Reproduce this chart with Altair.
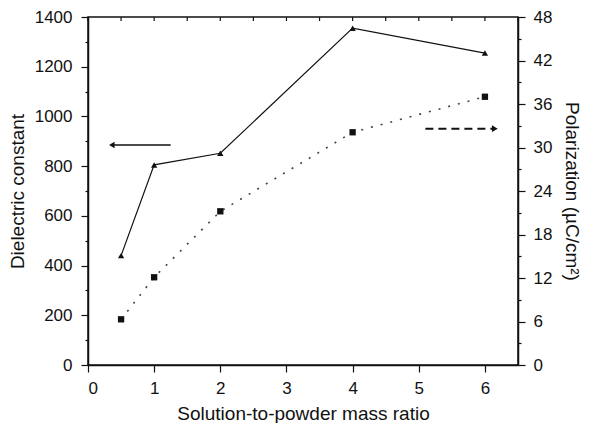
import altair as alt
import pandas as pd

# ---- data ----
ratio = [0.5, 1, 2, 4, 6]
dielectric = [440, 805, 852, 1355, 1255]
polarization = [6.3, 12.1, 21.2, 32.1, 37.0]

left_arrow_tail = 1.25
left_arrow_head = 0.36
left_arrow_level = 885
right_arrow_tail = 5.1
right_arrow_head = 6.15
right_arrow_level = 32.6

x_ticks = [i * 0.5 for i in range(14)]
left_ticks = list(range(0, 1401, 100))
right_ticks = list(range(0, 49, 3))

FONT = "Liberation Sans"
INK = "#111111"

df = pd.DataFrame({"ratio": ratio, "dielectric": dielectric, "polarization": polarization})
left_arrow = pd.DataFrame({"ratio": [left_arrow_tail], "ratio2": [left_arrow_head], "dielectric": [left_arrow_level]})
right_arrow = pd.DataFrame({"ratio": [right_arrow_tail], "ratio2": [right_arrow_head], "polarization": [right_arrow_level]})
top_ticks = pd.DataFrame({"ratio": x_ticks})

xscale = alt.Scale(domain=[0, 6.5], nice=False)

def x_enc(field="ratio"):
    return alt.X(f"{field}:Q", scale=xscale, axis=alt.Axis(
        values=x_ticks, orient="bottom", format="d", labelOverlap=False,
        labelExpr="datum.value % 1 === 0 ? datum.label : ''",
        tickSize={"condition": {"test": "datum.value % 1 !== 0", "value": 3}, "value": 7},
        labelPadding=8, titlePadding=8,
        title="Solution-to-powder mass ratio", grid=False))

def y_left():
    return alt.Y("dielectric:Q", scale=alt.Scale(domain=[0, 1400], nice=False), axis=alt.Axis(
        values=left_ticks, orient="left", format="d", labelOverlap=False,
        labelExpr="datum.value % 200 === 0 ? datum.label : ''",
        tickSize={"condition": {"test": "datum.value % 200 !== 0", "value": 3}, "value": 7},
        labelPadding=9, titlePadding=7,
        title="Dielectric constant", grid=False))

def y_right():
    return alt.Y("polarization:Q", scale=alt.Scale(domain=[0, 48], nice=False), axis=alt.Axis(
        values=right_ticks, orient="right", format="d", labelOverlap=False,
        labelExpr="datum.value % 6 === 0 ? datum.label : ''",
        tickSize={"condition": {"test": "datum.value % 6 !== 0", "value": 3}, "value": 7},
        labelPadding=8, titlePadding=10,
        title="Polarization (µC/cm²)", grid=False))

tri_line = alt.Chart(df).mark_line(color=INK, strokeWidth=1.2).encode(x=x_enc(), y=y_left())
tri_pts = alt.Chart(df).mark_point(shape="triangle-up", filled=True, color=INK, size=40, opacity=1).encode(x=x_enc(), y=y_left())
la_rule = alt.Chart(left_arrow).mark_rule(color=INK, strokeWidth=1.5).encode(
    x=x_enc(), x2="ratio2:Q", y=y_left())
la_head = alt.Chart(left_arrow).mark_point(shape="triangle-left", filled=True, color=INK, size=40, opacity=1).encode(
    x=x_enc("ratio2"), y=y_left())
top_tk = alt.Chart(top_ticks).mark_rule(color=INK, strokeWidth=1.2).encode(
    x=x_enc(), y=alt.value(0), y2=alt.value(4))
left = alt.layer(tri_line, tri_pts, la_rule, la_head, top_tk)

sq_line = alt.Chart(df).mark_line(color="#444444", strokeWidth=1.6, strokeDash=[2, 8]).encode(x=x_enc(), y=y_right())
sq_pts = alt.Chart(df).mark_point(shape="square", filled=True, color=INK, size=40, opacity=1).encode(x=x_enc(), y=y_right())
ra_rule = alt.Chart(right_arrow).mark_rule(color=INK, strokeWidth=2, strokeDash=[8, 5]).encode(
    x=x_enc(), x2="ratio2:Q", y=y_right())
ra_head = alt.Chart(right_arrow).mark_point(shape="triangle-right", filled=True, color=INK, size=45, opacity=1).encode(
    x=x_enc("ratio2"), y=y_right())
right = alt.layer(sq_line, sq_pts, ra_rule, ra_head)

chart = alt.layer(left, right).resolve_scale(y="independent").properties(
    width=430, height=348, background="white",
    padding={"left": 0, "top": 0, "right": 6, "bottom": 0}
).configure_view(stroke=INK, strokeWidth=1.5).configure_axis(
    labelFont=FONT, titleFont=FONT, labelFontSize=17, titleFontSize=19,
    labelColor=INK, titleColor=INK, titleFontWeight="normal",
    domainColor=INK, tickColor=INK, domainWidth=1.5, tickWidth=1.2
)

chart.save("out.html", embed_options={"renderer": "svg", "actions": False})
